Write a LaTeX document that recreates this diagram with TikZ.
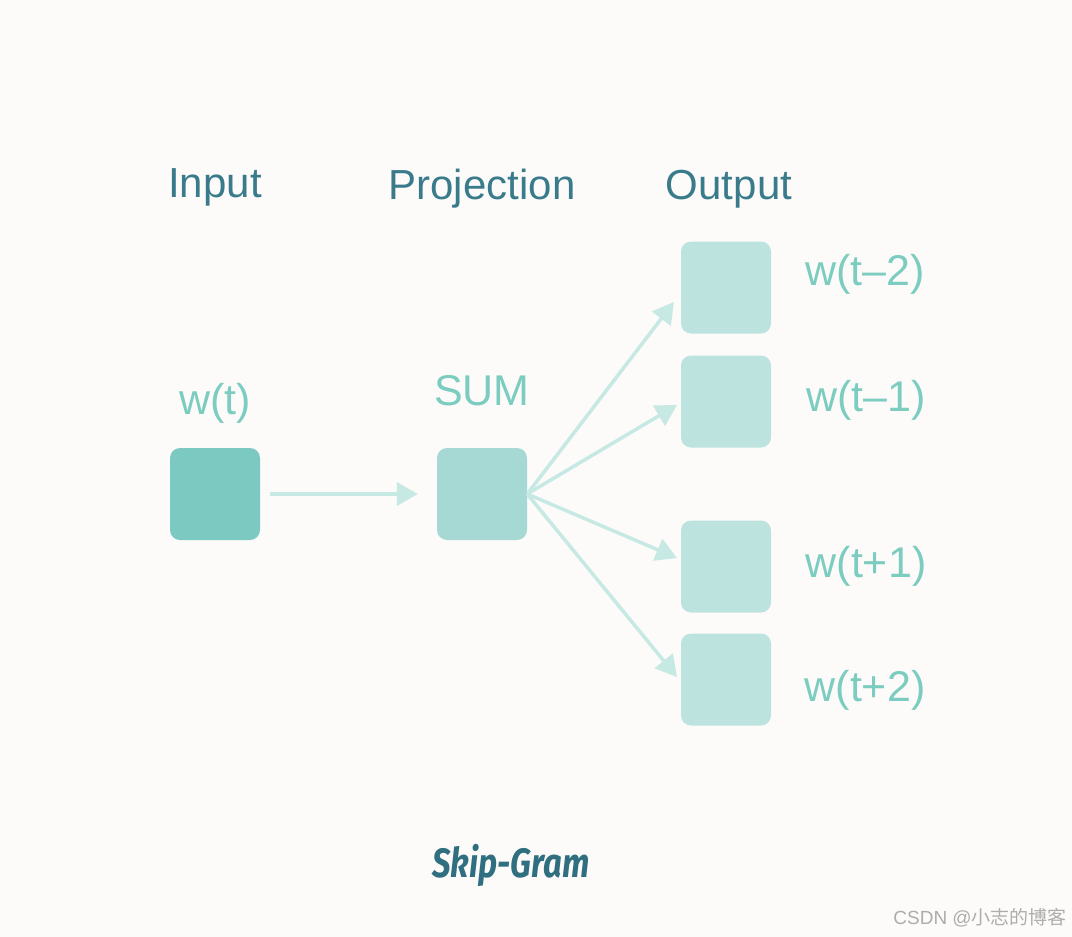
\documentclass[tikz,border=0pt]{standalone}
\usepackage{fontspec}
\setmainfont{Liberation Sans}
\newfontfamily\firafont{Fira Sans}
\newfontfamily\cjkfont{Noto Sans CJK SC}
\usetikzlibrary{arrows.meta}
\definecolor{bgc}{HTML}{FCFBF9}
\definecolor{headc}{HTML}{3A7B8B}
\definecolor{labc}{HTML}{7CCCC0}
\definecolor{titc}{HTML}{2F6F80}
\definecolor{inc}{HTML}{7CC9C1}
\definecolor{sumc}{HTML}{A6D9D4}
\definecolor{outc}{HTML}{BDE3DF}
\definecolor{arrc}{HTML}{C6E9E3}
\tikzset{
  unitbox/.style={rectangle, rounded corners=10pt, minimum width=90pt, minimum height=92pt, inner sep=0pt},
  header/.style={text=headc, font=\fontsize{42}{46}\selectfont, inner sep=0pt},
  wlabel/.style={text=labc, font=\fontsize{43}{47}\selectfont, inner sep=0pt},
  conn/.style={draw=arrc, line width=4pt, -{Triangle[length=21pt,width=23pt]}},
}
\begin{document}
\begin{tikzpicture}[x=1pt,y=-1pt]
\useasboundingbox (0,0) rectangle (1072,937);
\fill[bgc] (0,0) rectangle (1072,937);
% headers
\node[header] (hin) at (215,187) {Input};
\node[header] (hproj) at (482,189) {Projection};
\node[header] (hout) at (729,189) {Output};
% boxes
\node[unitbox, fill=inc] (in) at (215,494) {};
\node[unitbox, fill=sumc] (sum) at (482,494) {};
\node[unitbox, fill=outc] (o1) at (726,287.5) {};
\node[unitbox, fill=outc] (o2) at (726,401.5) {};
\node[unitbox, fill=outc] (o3) at (726,566.5) {};
\node[unitbox, fill=outc] (o4) at (726,679.5) {};
% labels
\node[wlabel] (lin) at (215,403) {w(t)};
\node[wlabel] (lsum) at (482,391) {SUM};
\node[wlabel] (l1) at (865,274) {w(t\textendash2)};
\node[wlabel] (l2) at (866,400) {w(t\textendash1)};
\node[wlabel] (l3) at (866,566) {w(t+1)};
\node[wlabel] (l4) at (865,690) {w(t+2)};
% arrow tips
\coordinate (t1) at (674,302);
\coordinate (t2) at (677,405);
\coordinate (t3) at (677,558);
\coordinate (t4) at (677,677);
\draw[conn, shorten <=10pt, shorten >=19pt] (in.east) -- (sum.west);
\draw[conn, line width=3.5pt] (sum.east) -- (t1);
\draw[conn, line width=3.5pt] (sum.east) -- (t2);
\draw[conn, line width=3.5pt] (sum.east) -- (t3);
\draw[conn, line width=3.5pt] (sum.east) -- (t4);
% title
\node[text=titc, inner sep=0pt] (title) at (511,865) {\scalebox{0.8}[1]{\firafont\bfseries\itshape\fontsize{41}{45}\selectfont Skip-Gram}};
% watermark
\node[text=black!32, inner sep=0pt, anchor=east] (wm) at (1067,918) {\fontsize{19}{22}\selectfont CSDN @\cjkfont 小志的博客};
\end{tikzpicture}
\end{document}
